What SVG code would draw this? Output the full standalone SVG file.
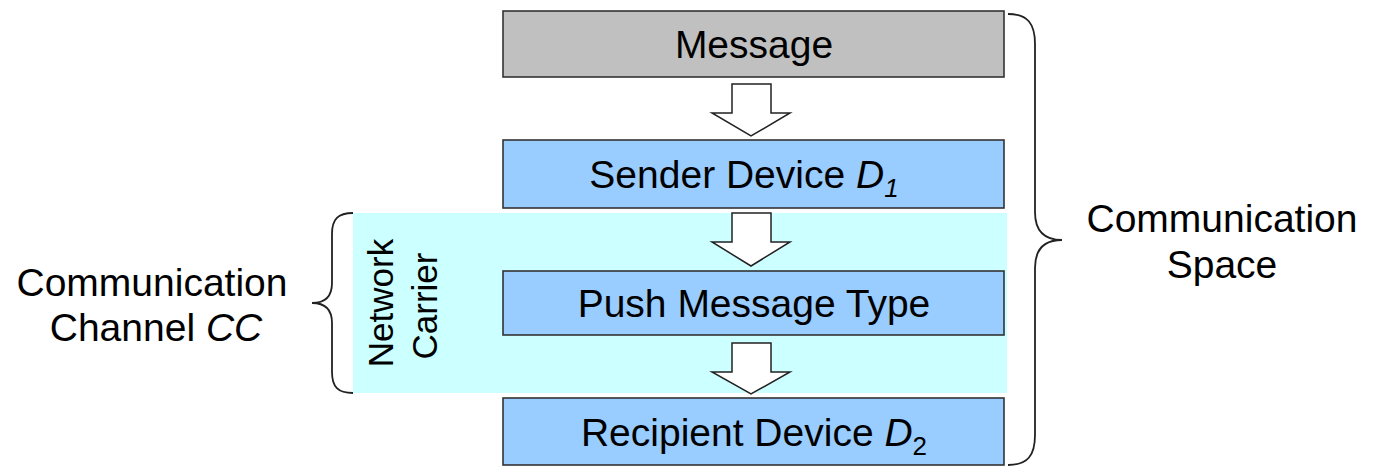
<svg xmlns="http://www.w3.org/2000/svg" width="1377" height="468" viewBox="0 0 1377 468">
<style>
text{font-family:"Liberation Sans",Arial,sans-serif;font-size:39px;fill:#000}
.box{stroke:#333;stroke-width:1.6}
.msg{fill:#c0c0c0}
.dev{fill:#99ccff}
.arr{fill:#fff;stroke:#222;stroke-width:1.5;stroke-linejoin:miter}
.brace{fill:none;stroke:#222;stroke-width:1.8}
</style>
<rect x="0" y="0" width="1377" height="468" fill="#fff"/>
<g id="channel-area">
<rect x="353" y="213" width="654" height="180" fill="#ccffff"/>
<text transform="translate(393,303) rotate(-90)" text-anchor="middle" style="font-size:35px">Network</text>
<text transform="translate(437,306) rotate(-90)" text-anchor="middle" style="font-size:35px">Carrier</text>
</g>
<g id="message">
<rect class="box msg" x="503" y="11" width="501" height="66"/>
<text x="754" y="58" text-anchor="middle">Message</text>
</g>
<g id="sender">
<rect class="box dev" x="503" y="140" width="501" height="68"/>
<text x="744" y="188" text-anchor="middle">Sender Device <tspan font-style="italic">D</tspan><tspan font-style="italic" font-size="26" dy="9">1</tspan></text>
</g>
<g id="push">
<rect class="box dev" x="503" y="271" width="501" height="64"/>
<text x="754" y="317" text-anchor="middle">Push Message Type</text>
</g>
<g id="recipient">
<rect class="box dev" x="503" y="398" width="501" height="67"/>
<text x="754" y="446" text-anchor="middle">Recipient Device <tspan font-style="italic">D</tspan><tspan font-size="26" dy="9">2</tspan></text>
</g>
<g id="connectors">
<polygon class="arr" points="732,84 771,84 771,113 790,113 751,136 712,113 732,113"/>
<polygon class="arr" points="732,213 771,213 771,242 790,242 751,266 712,242 732,242"/>
<polygon class="arr" points="732,343 771,343 771,372 790,372 751,394 712,372 732,372"/>
</g>
<g id="communication-space">
<path class="brace" d="M1008,14 C1028,14 1035,24 1035,44 L1035,212 C1035,232 1045,240 1062,240 C1045,240 1035,248 1035,268 L1035,435 C1035,455 1028,465 1008,465"/>
<text x="1222" y="232" text-anchor="middle">Communication</text>
<text x="1222" y="278" text-anchor="middle">Space</text>
</g>
<g id="communication-channel">
<path class="brace" d="M353,213 C338,213 332,219 332,234 L332,283 C332,297 325,303 312,303 C325,303 332,309 332,323 L332,372 C332,387 338,393 353,393"/>
<text x="152" y="296" text-anchor="middle">Communication</text>
<text x="156" y="341" text-anchor="middle">Channel <tspan font-style="italic">CC</tspan></text>
</g>
</svg>
